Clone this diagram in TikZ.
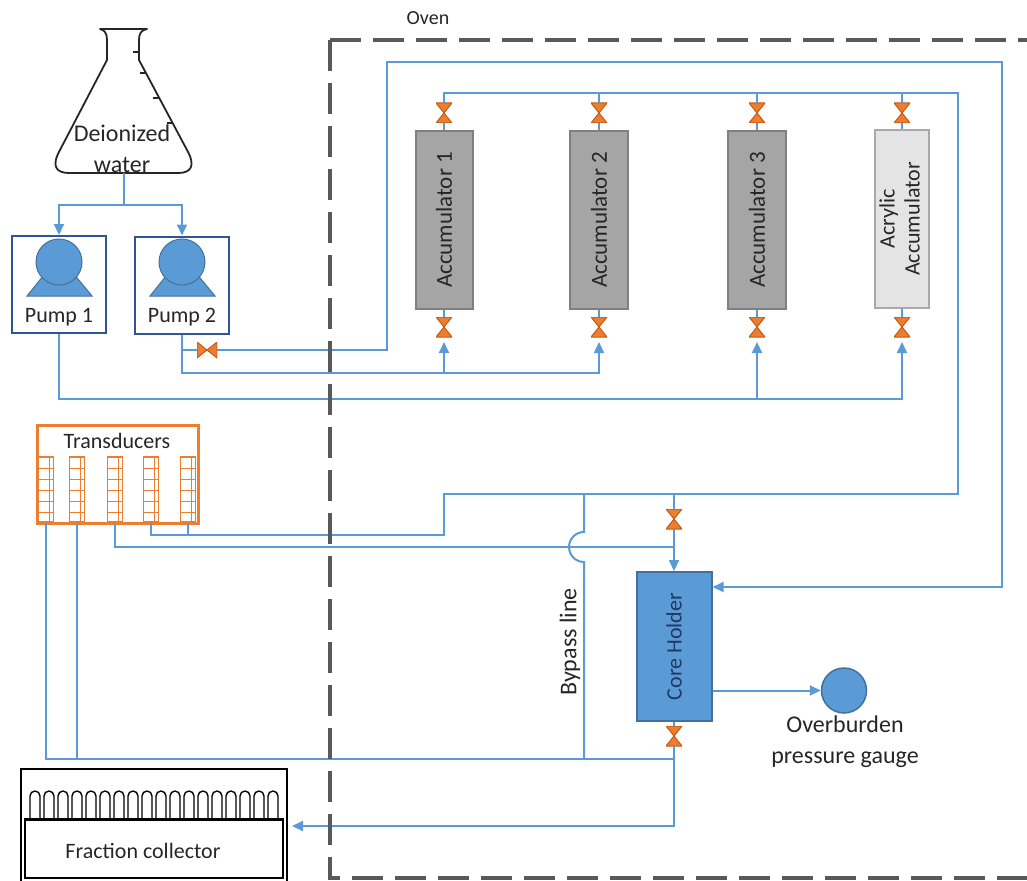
\documentclass[tikz,border=0pt]{standalone}
\usepackage{fontspec}
\setmainfont{Carlito}
\usetikzlibrary{arrows.meta}
\definecolor{pipeblue}{HTML}{5B9BD5}
\definecolor{pumpedge}{HTML}{41719C}
\definecolor{pumpframe}{HTML}{2F5597}
\definecolor{valvefill}{HTML}{ED7D31}
\definecolor{valveedge}{HTML}{C55A11}
\definecolor{accfill}{HTML}{A5A5A5}
\definecolor{accedge}{HTML}{7F7F7F}
\definecolor{acrylfill}{HTML}{E4E4E4}
\definecolor{acryledge}{HTML}{A9A9A9}
\definecolor{ovenline}{HTML}{595959}
\definecolor{inktext}{HTML}{262626}
\definecolor{coretext}{HTML}{1F3864}
\newcommand\fsz[2]{\fontsize{#1}{#2}\selectfont}
\tikzset{
  pipe/.style={draw=pipeblue, line width=2pt},
  flow/.style={pipe, -{Triangle[width=10pt,length=11pt]}},
  oven/.style={draw=ovenline, line width=3.5pt, dash pattern=on 31pt off 12pt},
  flask/.style={draw=inktext, line width=1.8pt, line join=round},
  vvalve/.style={minimum width=16pt, minimum height=20pt, inner sep=0pt, outer sep=0pt,
    path picture={\filldraw[fill=valvefill, draw=valveedge, line width=1pt]
      (path picture bounding box.north west) -- (path picture bounding box.north east)
      -- (path picture bounding box.south west) -- (path picture bounding box.south east) -- cycle;}},
  hvalve/.style={minimum width=20pt, minimum height=16pt, inner sep=0pt, outer sep=0pt,
    path picture={\filldraw[fill=valvefill, draw=valveedge, line width=1pt]
      (path picture bounding box.north west) -- (path picture bounding box.south west)
      -- (path picture bounding box.north east) -- (path picture bounding box.south east) -- cycle;}},
  accbox/.style={draw=accedge, fill=accfill, line width=2pt, minimum height=178pt,
    inner sep=0pt, font=\fsz{23}{27}},
  acrylbox/.style={accbox, draw=acryledge, fill=acrylfill},
  pumpbox/.style={draw=pumpframe, line width=2pt, minimum width=94pt, minimum height=97pt, inner sep=0pt},
  pumpicon/.pic={
    \filldraw[fill=pipeblue, draw=pumpedge, line width=1pt] (-32,34) -- (33,34) -- (0,-6) -- cycle;
    \filldraw[fill=pipeblue, draw=pumpedge, line width=1pt] (0,0) circle[radius=23];
  },
  corebox/.style={draw=pumpedge, fill=pipeblue, line width=2pt, minimum width=75pt,
    minimum height=149pt, inner sep=0pt, text=coretext, font=\fsz{22}{26}},
  gauge/.style={circle, draw=pumpedge, fill=pipeblue, line width=1.5pt, minimum size=45pt, inner sep=0pt},
  trbox/.style={draw=valvefill, line width=3pt, minimum width=161pt, minimum height=98pt, inner sep=0pt},
  cell/.style={draw=valvefill, line width=1.5pt, minimum width=15pt, minimum height=65pt, inner sep=0pt},
  cellgrid/.style={draw=valvefill, line width=0.8pt},
  collector/.style={draw=black, line width=2pt, minimum width=266pt, minimum height=122pt, inner sep=0pt},
  tray/.style={draw=black, line width=2pt, minimum width=258pt, minimum height=58pt, inner sep=0pt},
  tube/.style={draw=black, line width=1.4pt},
  label/.style={text=inktext, inner sep=0pt}
}
\begin{document}
\begin{tikzpicture}[x=1pt, y=-1pt, font=\fsz{22}{27}, text=inktext]
\useasboundingbox (0,0) rectangle (1027,880);

% ---------- flask of deionized water ----------
\draw[flask] (100,29) -- (147,29) .. controls (141,30) and (139,34) .. (139,40) -- (139,60)
  -- (187,150) .. controls (196,166) and (191,173) .. (178,173) -- (69,173)
  .. controls (56,173) and (51,166) .. (60,150) -- (107,60) -- (107,40)
  .. controls (107,34) and (105,30) .. (100,29) -- cycle;
\foreach \ya/\xb in {52/139,73/146,98/159.3,123/172.6}
  \draw[flask, line width=1.2pt] (\xb-6,\ya) -- (\xb,\ya);
\node[label, align=center, font=\fsz{24}{31}] (water) at (122,149) {Deionized\\water};
\coordinate (fout) at (124,173);
\coordinate (split) at (124,205);

% ---------- pumps ----------
\node[pumpbox] (p1) at (59,284.5) {};
\node[pumpbox] (p2) at (182,285) {};
\pic at (59,262) {pumpicon};
\pic at (182,262) {pumpicon};
\node[label] (p1l) at (59,317) {Pump 1};
\node[label] (p2l) at (182,317) {Pump 2};
\node[hvalve] (hv) at (207,350) {};

% ---------- accumulators and their valves ----------
\node[accbox, minimum width=57pt] (a1) at (444,220) {\rotatebox{90}{Accumulator 1}};
\node[accbox, minimum width=58pt] (a2) at (599,220) {\rotatebox{90}{Accumulator 2}};
\node[accbox, minimum width=58pt] (a3) at (757,220) {\rotatebox{90}{Accumulator 3}};
\node[acrylbox, minimum width=54pt, font=\fsz{22}{25}] (a4) at (902,219)
  {\rotatebox{90}{\begin{tabular}{@{}c@{}}Acrylic\\Accumulator\end{tabular}}};
\foreach \n/\x in {1/444,2/599,3/757,4/902}{
  \node[vvalve] (v\n t) at (\x,113) {};
  \node[vvalve] (v\n b) at (\x,327) {};
}

% ---------- core holder, valves and gauge ----------
\node[corebox] (ch) at (674,646.5) {\rotatebox{90}{Core Holder}};
\node[vvalve] (vct) at (674,519) {};
\node[vvalve] (vcb) at (674,736) {};
\node[gauge] (g) at (844,690.5) {};
\node[label, align=center, font=\fsz{24}{31}] (gl) at (845,742) {Overburden\\pressure gauge};
\node[label, font=\fsz{24}{28}] (bpl) at (570,642) {\rotatebox{90}{Bypass line}};

% ---------- transducers ----------
\node[trbox] (tr) at (117.5,474) {};
\node[label] (trl) at (117,441) {Transducers};
\foreach \i/\x in {1/46,2/77,3/115,4/151,5/188}{
  \node[cell] (c\i) at (\x,489.5) {};
  \draw[cellgrid] (\x+3,457) -- (\x+3,522);
  \foreach \y in {468,479,490,501,512}
    \draw[cellgrid] (\x-7.5,\y) -- (\x+7.5,\y);
}

% ---------- fraction collector ----------
\node[collector] (fc) at (154,830) {};
\node[tray] (fct) at (154,849) {};
\draw[line width=3pt] (fct.north west) -- (fct.north east);
\foreach \k in {0,...,17}
  \draw[tube] ({30+14*\k},819) -- ++(0,-23) arc[start angle=180, end angle=360, radius=5] -- ++(0,23);
\node[label] (fcl) at (143,851) {Fraction collector};

% ---------- piping ----------
\draw[pipe] (fout) -- (split);
\draw[flow] (split) -| (p1.north);
\draw[flow] (split) -| (p2.north);

% pump 2 to accumulators 1 and 2
\coordinate (pb2) at (599,373);
\draw[flow, shorten >=5pt] (p2.south) |- (pb2) -- (v2b.south);
\draw[flow, shorten >=5pt] (v1b.south |- pb2) -- (v1b.south);
% pump 1 to accumulator 3 and acrylic accumulator
\coordinate (pb1) at (902,399);
\draw[flow, shorten >=5pt] (p1.south) |- (pb1) -- (v4b.south);
\draw[flow, shorten >=5pt] (v3b.south |- pb1) -- (v3b.south);
% pump 2 confining line round the oven to the core holder
\coordinate (o1) at (387,350);
\coordinate (o2) at (387,62);
\coordinate (o3) at (1002,62);
\coordinate (o4) at (1002,587);
\draw[pipe] (p2.south |- hv) -- (hv.west);
\draw[flow] (hv.east) -- (o1) -- (o2) -- (o3) -- (o4) -- (ch.east |- o4);

% accumulator bodies to their valves
\foreach \n in {1,2,3,4}{
  \draw[pipe] (v\n t.south) -- (a\n.north);
  \draw[pipe] (a\n.south) -- (v\n b.north);
}

% outlet manifold over the accumulators
\coordinate (tr2) at (958,93);
\coordinate (tr1) at (958,494);
\coordinate (k2) at (444,494);
\coordinate (k1) at (444,535);
\draw[pipe] (c4.south) |- (k1) -- (k2) -- (tr1) -- (tr2) -| (v1t.north);
\draw[pipe] (c5.south) -- (c5.south |- k1);
\foreach \n in {2,3,4}
  \draw[pipe] (v\n t.north) -- (v\n t.north |- tr2);

% core holder inlet
\draw[pipe] (vct.north |- k2) -- (vct.north);
\draw[flow] (vct.south) -- (ch.north);
\coordinate (j3) at (674,547);
\draw[pipe] (c3.south) |- (j3);

% bypass line, hopping over the transducer line
\coordinate (bp0) at (584,494);
\coordinate (cb) at (674,759);
\draw[pipe] (bp0) -- (584,532) arc[start angle=270, end angle=90, radius=15] -- (584,759);

% core holder outlet, lower transducers and fraction collector
\draw[pipe] (ch.south) -- (vcb.north);
\draw[pipe] (c1.south) |- (cb);
\draw[pipe] (c2.south) -- (c2.south |- cb);
\coordinate (fo) at (674,826);
\draw[flow, shorten >=4pt] (vcb.south) -- (fo) -- (fc.east |- fo);

% overburden pressure gauge
\draw[flow] (ch.east |- g) -- (g.west);

% ---------- oven ----------
\draw[oven] (330,40) -- (1060,40);
\draw[oven] (330,40) -- (330,878) -- (1060,878);
\node[label, font=\fsz{20}{24}] (ovenl) at (428,18) {Oven};
\end{tikzpicture}
\end{document}
